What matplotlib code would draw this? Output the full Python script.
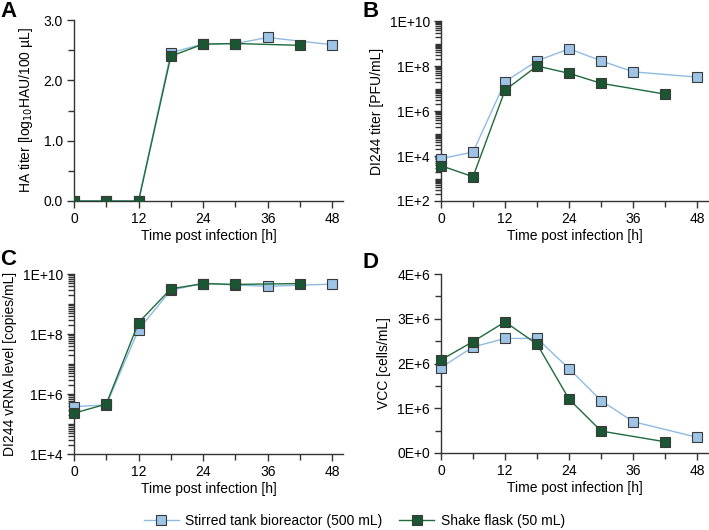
import math
import matplotlib
matplotlib.use("Agg")
import matplotlib.pyplot as plt
from matplotlib.ticker import FixedLocator, FuncFormatter, LogLocator, NullFormatter, MultipleLocator
from matplotlib.lines import Line2D

plt.rcParams['font.family'] = ['Liberation Sans', 'DejaVu Sans']

# Time points
t_str = [0, 6, 12, 18, 24, 30, 36, 48]
t_sf = [0, 6, 12, 18, 24, 30, 42]

# A: HA titer [log10 HAU/100 uL]
ha_str = [0, 0, 0, 2.46, 2.60, 2.61, 2.71, 2.59]
ha_sf = [0, 0, 0, 2.40, 2.60, 2.61, 2.58]

# B: DI244 titer [PFU/mL]
pfu_str = [7.6e3, 1.5e4, 2.0e7, 1.7e8, 5.8e8, 1.7e8, 5.5e7, 3.2e7]
pfu_sf = [3.7e3, 1.2e3, 8.5e6, 1.0e8, 4.7e7, 1.7e7, 5.6e6]

# C: DI244 vRNA level [copies/mL]
vrna_str = [3.8e5, 4.3e5, 1.4e8, 2.9e9, 4.8e9, 4.3e9, 3.9e9, 4.6e9]
vrna_sf = [2.3e5, 4.6e5, 2.4e8, 3.2e9, 4.8e9, 4.5e9, 4.8e9]

# D: VCC [cells/mL]
vcc_str = [1.91e6, 2.37e6, 2.56e6, 2.56e6, 1.88e6, 1.17e6, 0.70e6, 0.35e6]
vcc_sf = [2.08e6, 2.49e6, 2.93e6, 2.43e6, 1.20e6, 0.49e6, 0.25e6]

labels = ["Stirred tank bioreactor (500 mL)", "Shake flask (50 mL)"]

blue_line = "#8fbbe3"
blue_fill = "#9dc3e6"
green_line = "#1e6b3c"
green_fill = "#1b5632"
edge = "#3a3a3a"
axc = "#333333"

fig = plt.figure(figsize=(7.09, 5.30), dpi=100)

W, H = 709, 530
def ax_at(x0, y0, x1, y1):
    return fig.add_axes([x0 / W, 1 - y1 / H, (x1 - x0) / W, (y1 - y0) / H])

axA = ax_at(74, 20, 343, 201)
axB = ax_at(441, 21, 708, 201)
axC = ax_at(74, 274, 343, 454)
axD = ax_at(441, 274, 708, 453)

FS = 10

def style(ax):
    for s in ["top", "right"]:
        ax.spines[s].set_visible(False)
    for s in ["left", "bottom"]:
        ax.spines[s].set_color(axc)
        ax.spines[s].set_linewidth(1.0)
    ax.set_xlim(0, 50)
    ax.xaxis.set_major_locator(FixedLocator([0, 12, 24, 36, 48]))
    ax.xaxis.set_minor_locator(FixedLocator([6, 18, 30, 42]))
    ax.tick_params(which="major", direction="out", length=5, width=1.0, color=axc,
                   labelsize=FS, pad=3)
    ax.tick_params(which="minor", direction="out", length=4, width=1.0, color=axc)
    ax.set_xlabel("Time post infection [h]", fontsize=FS, labelpad=2)

def plot(ax, ys, yf, clip=False):
    ax.plot(t_str, ys, color=blue_line, lw=1.0, marker="s", ms=6.5,
            mfc=blue_fill, mec=edge, mew=0.8, clip_on=clip, zorder=3)
    ax.plot(t_sf, yf, color=green_line, lw=1.0, marker="s", ms=6.5,
            mfc=green_fill, mec=edge, mew=0.8, clip_on=clip, zorder=4)

def efmt(v, pos):
    if v <= 0:
        return "0E+0"
    e = int(math.floor(math.log10(v) + 1e-9))
    m = v / 10 ** e
    return f"{m:.0f}E+{e}"

# A
plot(axA, ha_str, ha_sf, clip=True)
style(axA)
axA.set_ylim(0, 3.0)
axA.yaxis.set_major_locator(MultipleLocator(1.0))
axA.yaxis.set_minor_locator(MultipleLocator(0.5))
axA.yaxis.set_major_formatter(FuncFormatter(lambda v, p: f"{v:.1f}"))
axA.set_ylabel("HA titer [log$_{10}$HAU/100 µL]", fontsize=FS, labelpad=6)

# B
plot(axB, pfu_str, pfu_sf)
style(axB)
axB.set_yscale("log")
axB.set_ylim(1e2, 1e10)
axB.yaxis.set_major_locator(FixedLocator([1e2, 1e4, 1e6, 1e8, 1e10]))
axB.yaxis.set_minor_locator(LogLocator(base=10, subs=range(1, 10), numticks=100))
axB.yaxis.set_minor_formatter(NullFormatter())
axB.yaxis.set_major_formatter(FuncFormatter(efmt))
axB.set_ylabel("DI244 titer [PFU/mL]", fontsize=FS, labelpad=4)

# C
plot(axC, vrna_str, vrna_sf)
style(axC)
axC.set_yscale("log")
axC.set_ylim(1e4, 1e10)
axC.yaxis.set_major_locator(FixedLocator([1e4, 1e6, 1e8, 1e10]))
axC.yaxis.set_minor_locator(LogLocator(base=10, subs=range(1, 10), numticks=100))
axC.yaxis.set_minor_formatter(NullFormatter())
axC.yaxis.set_major_formatter(FuncFormatter(efmt))
axC.set_ylabel("DI244 vRNA level [copies/mL]", fontsize=FS, labelpad=4)

# D
plot(axD, vcc_str, vcc_sf)
style(axD)
axD.set_ylim(0, 4e6)
axD.yaxis.set_major_locator(MultipleLocator(1e6))
axD.yaxis.set_minor_locator(MultipleLocator(0.5e6))
axD.yaxis.set_major_formatter(FuncFormatter(efmt))
axD.set_ylabel("VCC [cells/mL]", fontsize=FS, labelpad=4)

for txt, (x, y) in zip("ABCD", [(0, 1), (363, 1), (0, 249), (363, 252)]):
    fig.text(x / W, 1 - y / H, txt, fontsize=16, fontweight="bold", va="top", ha="left")

handles = [
    Line2D([], [], color=blue_line, lw=1.0, marker="s", ms=6.5, mfc=blue_fill, mec=edge, mew=0.8),
    Line2D([], [], color=green_line, lw=1.0, marker="s", ms=6.5, mfc=green_fill, mec=edge, mew=0.8),
]
fig.legend(handles, labels, loc="center", bbox_to_anchor=(0.5, 1 - 521 / H), ncol=2,
           frameon=False, fontsize=FS, handlelength=2.5, columnspacing=1.2,
           handletextpad=0.5)

fig.savefig("out.png", dpi=100)
